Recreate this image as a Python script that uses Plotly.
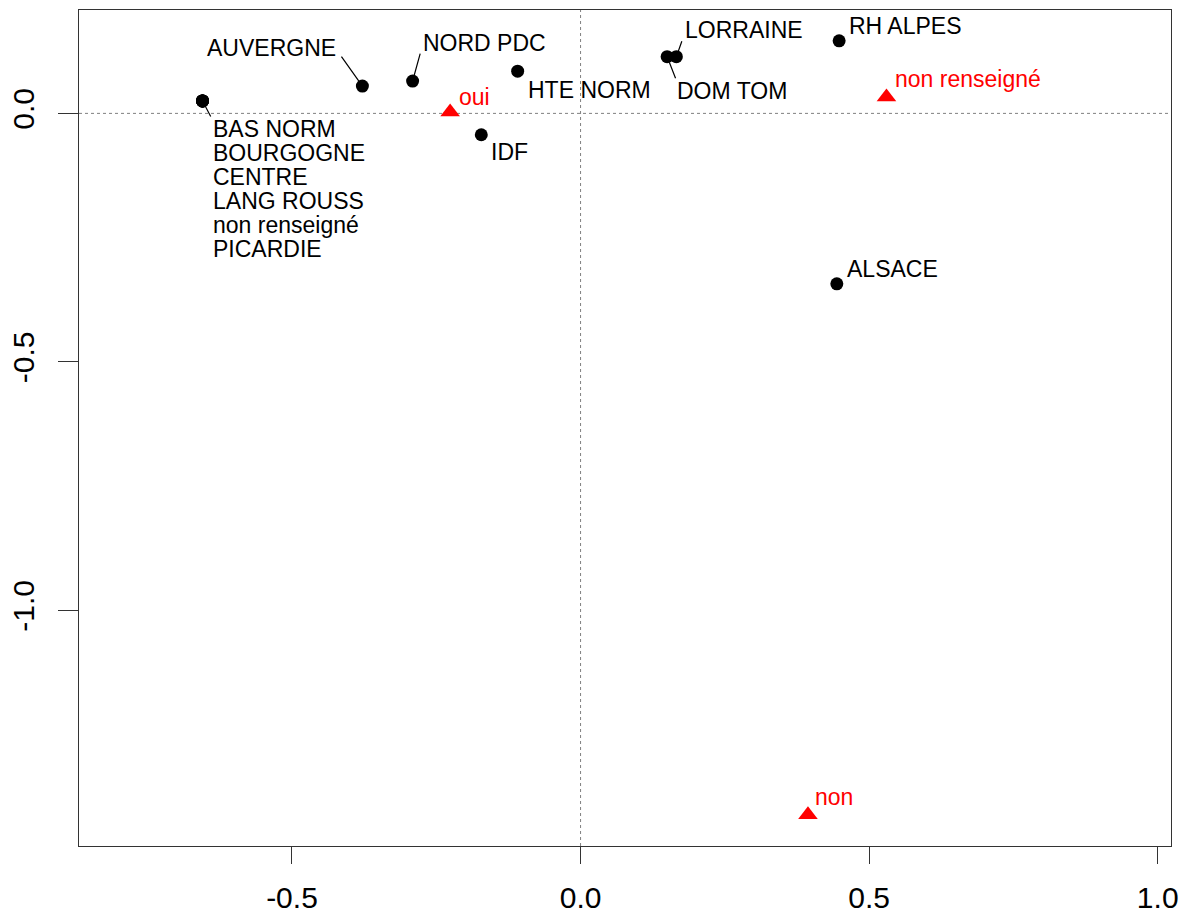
import plotly.graph_objects as go

# ---- data ----
region_names = ["ALSACE", "AUVERGNE", "BAS NORM", "BOURGOGNE", "CENTRE", "DOM TOM",
                "HTE NORM", "IDF", "LANG ROUSS", "LORRAINE", "NORD PDC",
                "non renseigné", "PICARDIE", "RH ALPES"]
region_x = [0.444, -0.378, -0.655, -0.655, -0.655, 0.150,
            -0.109, -0.172, -0.655, 0.166, -0.291,
            -0.655, -0.655, 0.448]
region_y = [-0.343, 0.055, 0.025, 0.025, 0.025, 0.114,
            0.085, -0.043, 0.025, 0.114, 0.065,
            0.025, 0.025, 0.146]

answer_names = ["oui", "non", "non renseigné"]
answer_x = [-0.226, 0.394, 0.530]
answer_y = [0.003, -1.411, 0.033]

x_ticks = [-0.5, 0.0, 0.5, 1.0]
y_ticks = [-1.0, -0.5, 0.0]

# ---- label placement (pixel offsets from the point) ----
# name: (dx, dy, xanchor)
region_label = {
    "ALSACE": (8, -15, "left"),
    "AUVERGNE": (-24, -38, "right"),
    "DOM TOM": (8, 34, "left"),
    "HTE NORM": (8, 19, "left"),
    "IDF": (8, 17, "left"),
    "LORRAINE": (7, -27, "left"),
    "NORD PDC": (8, -38, "left"),
    "RH ALPES": (8, -15, "left"),
}
stack_group = ["BAS NORM", "BOURGOGNE", "CENTRE", "LANG ROUSS", "non renseigné", "PICARDIE"]
stack_dx, stack_dy0, stack_step = 8, 28, 24.1
answer_label = {
    "oui": (7, -15),
    "non": (5, -18),
    "non renseigné": (7, -18),
}
# leader lines: name: (tail dx, tail dy, standoff)
leaders = {
    "AUVERGNE": (-22, -31, 5.5),
    "NORD PDC": (8, -29, 4.5),
    "LORRAINE": (6, -17, 5),
    "DOM TOM": (9, 23, 6),
    "BAS NORM": (9, 17, 6),
}

FONT = "Liberation Sans, Arial, sans-serif"
LSIZE = 23
TSIZE = 30

fig = go.Figure()

# dotted reference lines at 0
fig.add_shape(type="line", xref="x", yref="paper", x0=0, x1=0, y0=0, y1=1,
              line=dict(color="#808080", width=1, dash="dot"), layer="below")
fig.add_shape(type="line", xref="paper", yref="y", x0=0, x1=1, y0=0, y1=0,
              line=dict(color="#808080", width=1, dash="dot"), layer="below")

fig.add_trace(go.Scatter(x=region_x, y=region_y, mode="markers",
                         marker=dict(symbol="circle", size=13, color="black"),
                         hovertext=region_names, showlegend=False))
fig.add_trace(go.Scatter(x=answer_x, y=answer_y, mode="markers",
                         marker=dict(symbol="triangle-up", size=17, color="#FF0000"),
                         hovertext=answer_names, showlegend=False))

annotations = []
lookup = {n: (x, y) for n, x, y in zip(region_names, region_x, region_y)}
for name, (dx, dy, anchor) in region_label.items():
    x, y = lookup[name]
    annotations.append(dict(x=x, y=y, text=name, showarrow=False, xanchor=anchor,
                            yanchor="middle", xshift=dx, yshift=-dy,
                            font=dict(family=FONT, size=LSIZE, color="black")))
for i, name in enumerate(stack_group):
    x, y = lookup[name]
    annotations.append(dict(x=x, y=y, text=name, showarrow=False, xanchor="left",
                            yanchor="middle", xshift=stack_dx,
                            yshift=-(stack_dy0 + i * stack_step),
                            font=dict(family=FONT, size=LSIZE, color="black")))
for name, x, y in zip(answer_names, answer_x, answer_y):
    dx, dy = answer_label[name]
    annotations.append(dict(x=x, y=y, text=name, showarrow=False, xanchor="left",
                            yanchor="middle", xshift=dx, yshift=-dy,
                            font=dict(family=FONT, size=LSIZE, color="#FF0000")))
for name, (ax, ay, so) in leaders.items():
    x, y = lookup[name]
    annotations.append(dict(x=x, y=y, text="", showarrow=True, arrowhead=0,
                            arrowwidth=1.2, arrowcolor="black", ax=ax, ay=ay,
                            standoff=so))

# the page body adds an 8px offset, so margins compensate for it
fig.update_layout(
    width=1187, height=913,
    margin=dict(l=71, r=24, t=2, b=75, autoexpand=False),
    paper_bgcolor="white", plot_bgcolor="white",
    annotations=annotations,
    font=dict(family=FONT, color="black"),
    xaxis=dict(range=[-0.869, 1.023], showgrid=False, zeroline=False,
               showline=True, mirror=True, linecolor="#333333", linewidth=1,
               ticks="outside", ticklen=17, tickcolor="#333333",
               tickvals=x_ticks, ticktext=[f"{v:.1f}" for v in x_ticks],
               tickfont=dict(size=TSIZE, family=FONT, color="black"),
               ticklabelstandoff=8, automargin=False),
    yaxis=dict(range=[-1.474, 0.208], showgrid=False, zeroline=False,
               showline=True, mirror=True, linecolor="#333333", linewidth=1,
               ticks="outside", ticklen=20, tickcolor="#333333",
               tickvals=y_ticks, ticktext=[f"{v:.1f}" for v in y_ticks],
               tickangle=-90,
               tickfont=dict(size=TSIZE, family=FONT, color="black"),
               ticklabelstandoff=12, automargin=False),
)

fig.write_html("out.html")
